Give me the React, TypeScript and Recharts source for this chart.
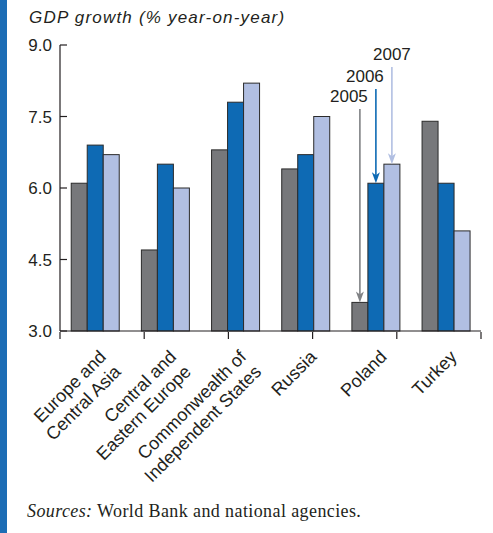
import { Bar, BarChart, XAxis, YAxis } from "recharts"

// regions and GDP growth, % y/y
const regions = [
  "Europe and Central Asia",
  "Central and Eastern Europe",
  "Commonwealth of Independent States",
  "Russia",
  "Poland",
  "Turkey",
]
const regionLines = [
  ["Europe and", "Central Asia"],
  ["Central and", "Eastern Europe"],
  ["Commonwealth of", "Independent States"],
  ["Russia"],
  ["Poland"],
  ["Turkey"],
]
const growth2005 = [6.1, 4.7, 6.8, 6.4, 3.6, 7.4]
const growth2006 = [6.9, 6.5, 7.8, 6.7, 6.1, 6.1]
const growth2007 = [6.7, 6.0, 8.2, 7.5, 6.5, 5.1]
const yTicks = [3.0, 4.5, 6.0, 7.5, 9.0]
const edgeTicks = [0, 1, 2, 3, 4, 5, 6]
const annotatedRegion = "Poland"

const data = regions.map((region, i) => ({
  region,
  y2005: growth2005[i],
  y2006: growth2006[i],
  y2007: growth2007[i],
}))

const INK = "#231f20"
const SANS = "'Liberation Sans', Arial, sans-serif"
const SERIF = "'Liberation Serif', 'Times New Roman', serif"

const series = [
  { key: "y2005", year: "2005", fill: "#77787b", arrow: "#808285", arrowTop: 109, textDx: -11 },
  { key: "y2006", year: "2006", fill: "#0e6ab4", arrow: "#0e6ab4", arrowTop: 89, textDx: -11 },
  { key: "y2007", year: "2007", fill: "#b1bfe2", arrow: "#b1bfe2", arrowTop: 67, textDx: 0 },
]

function makeShape(s: (typeof series)[number]) {
  return (props: any) => {
    const { x, y, width, height, payload } = props
    const cx = x + width / 2
    const showArrow = payload && payload.region === annotatedRegion
    return (
      <g>
        <rect x={x} y={y} width={width} height={height} fill={s.fill} stroke="#2b2b2b" strokeWidth={1} />
        {showArrow && (
          <g>
            <line x1={cx} y1={s.arrowTop} x2={cx} y2={y - 6} stroke={s.arrow} strokeWidth={1.6} />
            <path
              d={`M${cx - 4},${y - 11} L${cx},${y} L${cx + 4},${y - 11} L${cx},${y - 8} Z`}
              fill={s.arrow}
            />
            <text
              x={cx + s.textDx}
              y={s.arrowTop - 7}
              textAnchor="middle"
              fontFamily={SANS}
              fontSize={17}
              fill={INK}
            >
              {s.year}
            </text>
          </g>
        )}
      </g>
    )
  }
}

function RegionTick(props: any) {
  const { x, y, index } = props
  const lines = regionLines[index] || [String(props.payload?.value)]
  const ax = x + 12
  const ay = y + 19
  return (
    <text
      x={ax}
      y={ay}
      transform={`rotate(-45, ${ax}, ${ay})`}
      textAnchor="end"
      fontFamily={SANS}
      fontSize={18}
      fill={INK}
    >
      {lines.map((line: string, i: number) => (
        <tspan key={i} x={ax} dy={i === 0 ? 0 : 21}>
          {line}
        </tspan>
      ))}
    </text>
  )
}

export default function App() {
  return (
    <div
      style={{
        position: "absolute",
        left: 0,
        top: 0,
        width: 493,
        height: 533,
        background: "#ffffff",
        overflow: "hidden",
      }}
    >
      <div style={{ position: "absolute", left: 0, top: 0, width: 7, height: 533, background: "#1c6db5" }} />
      <div style={{ position: "absolute", left: 0, top: 0 }}>
        <BarChart
          width={493}
          height={533}
          data={data}
          margin={{ top: 45, right: 12, bottom: 200, left: 0 }}
          barCategoryGap="16%"
          barGap={0}
        >
          <XAxis
            dataKey="region"
            height={1}
            tickLine={false}
            axisLine={{ stroke: INK, strokeWidth: 1.2 }}
            interval={0}
            tick={<RegionTick />}
          />
          <XAxis
            xAxisId="edges"
            type="number"
            domain={[0, 6]}
            ticks={edgeTicks}
            interval={0}
            height={1}
            tick={() => <g />}
            tickSize={7}
            axisLine={false}
            tickLine={{ stroke: INK, strokeWidth: 1.2 }}
          />
          <YAxis
            type="number"
            domain={[3, 9]}
            ticks={yTicks}
            width={60}
            interval={0}
            tickSize={-7}
            tickMargin={15}
            tickFormatter={(v: number) => v.toFixed(1)}
            tick={{ fill: INK, fontSize: 17, fontFamily: SANS }}
            axisLine={{ stroke: INK, strokeWidth: 1.2 }}
            tickLine={{ stroke: INK, strokeWidth: 1.2 }}
          />
          {series.map((s) => (
            <Bar key={s.key} dataKey={s.key} isAnimationActive={false} shape={makeShape(s)} />
          ))}
        </BarChart>
      </div>
      <svg
        width={493}
        height={533}
        style={{ position: "absolute", left: 0, top: 0, pointerEvents: "none" }}
      >
        <text x={29} y={23} fontFamily={SANS} fontStyle="italic" fontSize={17} letterSpacing={1.2} fill={INK}>
          GDP growth (% year-on-year)
        </text>
        <text x={27} y={517} fontFamily={SERIF} fontSize={18} letterSpacing={0.4} fill={INK}>
          <tspan fontStyle="italic">Sources:</tspan> World Bank and national agencies.
        </text>
      </svg>
    </div>
  )
}
